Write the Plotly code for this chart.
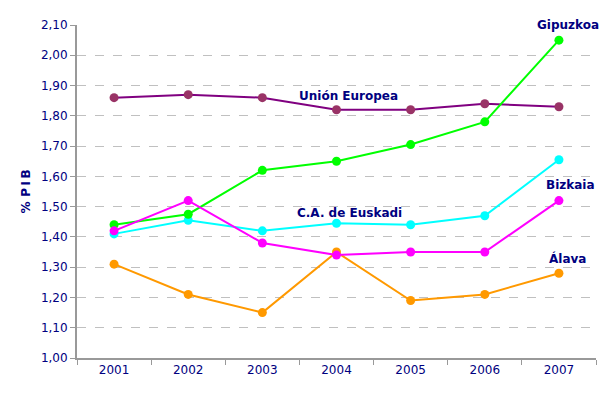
import plotly.graph_objects as go

years = ["2001", "2002", "2003", "2004", "2005", "2006", "2007"]
union_europea = [1.86, 1.87, 1.86, 1.82, 1.82, 1.84, 1.83]
gipuzkoa = [1.44, 1.475, 1.62, 1.65, 1.705, 1.78, 2.05]
euskadi = [1.41, 1.455, 1.42, 1.445, 1.44, 1.47, 1.655]
bizkaia = [1.42, 1.52, 1.38, 1.34, 1.35, 1.35, 1.52]
alava = [1.31, 1.21, 1.15, 1.35, 1.19, 1.21, 1.28]
y_ticks = [1.0, 1.1, 1.2, 1.3, 1.4, 1.5, 1.6, 1.7, 1.8, 1.9, 2.0, 2.1]

NAVY = "#000080"
FONT = "DejaVu Sans"

series = [
    ("Unión Europea", union_europea, "#800080", "#993366"),
    ("Álava", alava, "#FF9900", "#FF9900"),
    ("C.A. de Euskadi", euskadi, "#00FFFF", "#00FFFF"),
    ("Gipuzkoa", gipuzkoa, "#00FF00", "#00FF00"),
    ("Bizkaia", bizkaia, "#FF00FF", "#FF00FF"),
]

fig = go.Figure()
for name, vals, lc, mc in series:
    fig.add_trace(go.Scatter(
        x=years, y=vals, name=name, mode="lines+markers",
        line=dict(color=lc, width=2),
        marker=dict(color=mc, size=9),
        showlegend=False,
    ))

# (text, category index, y value, pixel shift)
labels = [
    ("Gipuzkoa", 6, 2.10, 9),
    ("Unión Europea", 3, 1.866, 12),
    ("C.A. de Euskadi", 3, 1.479, 13),
    ("Bizkaia", 6, 1.571, 12),
    ("Álava", 6, 1.33, 9),
]
for text, xi, y, xs in labels:
    fig.add_annotation(x=xi, y=y, xref="x", yref="y", text="<b>%s</b>" % text,
                       showarrow=False, xshift=xs,
                       font=dict(family=FONT, size=12, color=NAVY))

# page body has an 8px default margin, so the figure is drawn 8px smaller
fig.update_layout(
    width=605, height=386,
    margin=dict(l=69, r=17, t=17, b=36, autoexpand=False),
    paper_bgcolor="white", plot_bgcolor="white",
    separators=",.",
    font=dict(family=FONT, size=12, color=NAVY),
)
fig.update_xaxes(
    type="category", range=[-0.5, 6.5], automargin=False,
    showline=True, linecolor="#999999", linewidth=2,
    ticks="outside", tickson="boundaries", ticklen=5, tickcolor="#999999",
    showgrid=False, tickfont=dict(family=FONT, size=12, color=NAVY),
)
fig.update_yaxes(
    range=[1.0, 2.10], tickvals=y_ticks, tickformat=".2f", automargin=False,
    showline=True, linecolor="#999999", linewidth=2,
    ticks="outside", ticklen=5, tickcolor="#999999",
    showgrid=True, gridcolor="#C0C0C0", griddash="dash", gridwidth=1,
    zeroline=False,
    tickfont=dict(family=FONT, size=12, color=NAVY),
    title=dict(text="<b>%\u2009\u2009P\u2009I\u2009B</b>",
               font=dict(family=FONT, size=12, color=NAVY), standoff=8),
)
fig.write_html("out.html")
